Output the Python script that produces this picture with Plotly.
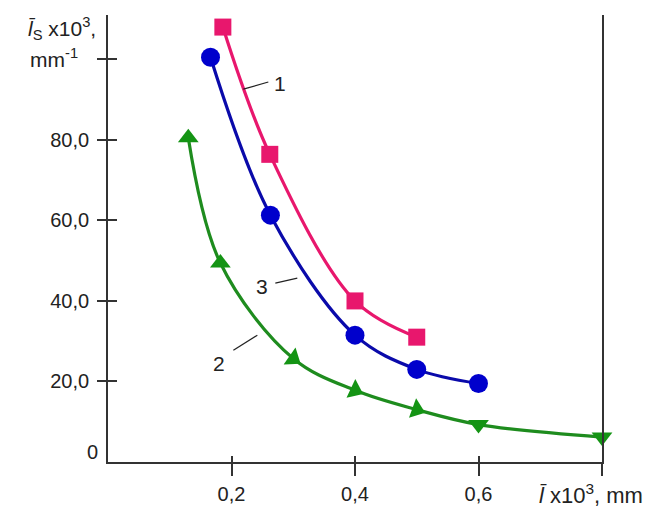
import plotly.graph_objects as go

# ---- data ----
x1 = [0.186, 0.262, 0.40, 0.50]
y1 = [108.0, 76.4, 40.0, 31.0]

x3 = [0.166, 0.263, 0.40, 0.50, 0.60]
y3 = [100.5, 61.3, 31.5, 23.0, 19.5]

x2 = [0.13, 0.182, 0.30, 0.40, 0.50, 0.60, 0.80]
y2 = [80.5, 49.4, 25.7, 17.8, 13.0, 9.3, 6.2]

x_tickvals = [0.2, 0.4, 0.6, 0.8]
x_ticktext = ["0,2", "0,4", "0,6", ""]
y_tickvals = [20, 40, 60, 80, 100]
y_ticktext = ["20,0", "40,0", "60,0", "80,0", ""]

PINK = "#E8176D"
BLUE = "#0A0AAA"
BLUE_M = "#0000CC"
GREEN = "#1E8C1E"
GREEN_M = "#149414"
AX = "#333333"
TXT = "#222222"
FONT = "Liberation Sans, Arial, sans-serif"

W, H = 657, 507
OFF = 8  # default page body margin of the html page
# plot area in screen pixels
L, R, T, B = 107.5, 602.0, 15.0, 461.7


def px(xp):
    return (xp - L) / (R - L)


def py(yp):
    return (B - yp) / (B - T)


fig = go.Figure()

fig.add_trace(go.Scatter(
    x=x1, y=y1, mode="lines+markers", cliponaxis=False,
    line=dict(color=PINK, width=3.2, shape="spline"),
    marker=dict(symbol="square", size=17, color=PINK),
    showlegend=False))

fig.add_trace(go.Scatter(
    x=x3, y=y3, mode="lines+markers", cliponaxis=False,
    line=dict(color=BLUE, width=3.2, shape="spline"),
    marker=dict(symbol="circle", size=19, color=BLUE_M),
    showlegend=False))

fig.add_trace(go.Scatter(
    x=x2, y=y2, mode="lines+markers", cliponaxis=False,
    line=dict(color=GREEN, width=3.2, shape="spline"),
    marker=dict(symbol="triangle-up", size=18, color=GREEN_M,
                angle=[0, 0, 125, 115, 110, 180, 180]),
    showlegend=False))

XR = [0, 0.8]
YR = [0, 111]

fig.update_layout(
    width=W, height=H,
    margin=dict(l=L - OFF, r=W - (R - OFF), t=T - OFF, b=H - (B - OFF), pad=0,
                autoexpand=False),
    paper_bgcolor="white", plot_bgcolor="white",
    font=dict(family=FONT, size=20, color=TXT),
    xaxis=dict(range=XR, showgrid=False, zeroline=False, automargin=False,
               showline=True, linecolor=AX, linewidth=1.6,
               tickvals=x_tickvals, ticktext=x_ticktext,
               ticks="outside", ticklen=12, tickwidth=1.6, tickcolor=AX,
               ticklabelstandoff=1,
               tickfont=dict(family=FONT, size=20, color=TXT)),
    yaxis=dict(range=YR, showgrid=False, zeroline=False, automargin=False,
               showline=True, linecolor=AX, linewidth=1.6, mirror=True,
               tickvals=y_tickvals, ticktext=y_ticktext,
               ticks="outside", ticklen=9, tickwidth=1.6, tickcolor=AX,
               ticklabelstandoff=4,
               tickfont=dict(family=FONT, size=20, color=TXT)),
    xaxis2=dict(range=XR, overlaying="x", anchor="y", side="bottom",
                showgrid=False, zeroline=False, showline=False, automargin=False,
                tickvals=x_tickvals, showticklabels=False,
                ticks="inside", ticklen=6, tickwidth=1.6, tickcolor=AX),
    yaxis2=dict(range=YR, overlaying="y", anchor="x", side="left",
                showgrid=False, zeroline=False, showline=False, automargin=False,
                tickvals=y_tickvals, showticklabels=False,
                ticks="inside", ticklen=9, tickwidth=1.6, tickcolor=AX),
)

# invisible trace to activate overlay axes
fig.add_trace(go.Scatter(x=[None], y=[None], xaxis="x2", yaxis="y2",
                         showlegend=False, hoverinfo="skip"))

ann = []
# y axis title
ann.append(dict(x=px(97), y=py(28), xref="paper", yref="paper",
                xanchor="right", yanchor="middle", showarrow=False,
                text="<i>l\u0304</i><sub>S</sub> x10<sup>3</sup>,",
                font=dict(family=FONT, size=21, color=TXT)))
ann.append(dict(x=px(53), y=py(58), xref="paper", yref="paper",
                xanchor="center", yanchor="middle", showarrow=False,
                text="mm<sup>-1</sup>",
                font=dict(family=FONT, size=21, color=TXT)))
# "0" label of y axis
ann.append(dict(x=px(99), y=py(452), xref="paper", yref="paper",
                xanchor="right", yanchor="middle", showarrow=False,
                text="0", font=dict(family=FONT, size=20, color=TXT)))
# x axis title
ann.append(dict(x=px(537), y=py(494), xref="paper", yref="paper",
                xanchor="left", yanchor="middle", showarrow=False,
                text="<i>l\u0304</i> x10<sup>3</sup>, mm",
                font=dict(family=FONT, size=22, color=TXT)))
# curve numbers
for t, xp_, yp_ in [("1", 280, 83), ("3", 262, 286), ("2", 219, 363)]:
    ann.append(dict(x=px(xp_), y=py(yp_), xref="paper", yref="paper",
                    xanchor="center", yanchor="middle", showarrow=False,
                    text=t, font=dict(family=FONT, size=21, color=TXT)))
fig.update_layout(annotations=ann)

# leader lines
shapes = []
for (a, b, c, d) in [(243, 89, 268, 82), (275, 283, 297, 278), (233, 350, 257, 335)]:
    shapes.append(dict(type="line", xref="paper", yref="paper",
                       x0=px(a), y0=py(b), x1=px(c), y1=py(d),
                       line=dict(color=TXT, width=1.2)))
fig.update_layout(shapes=shapes)

fig.write_html("out.html")
